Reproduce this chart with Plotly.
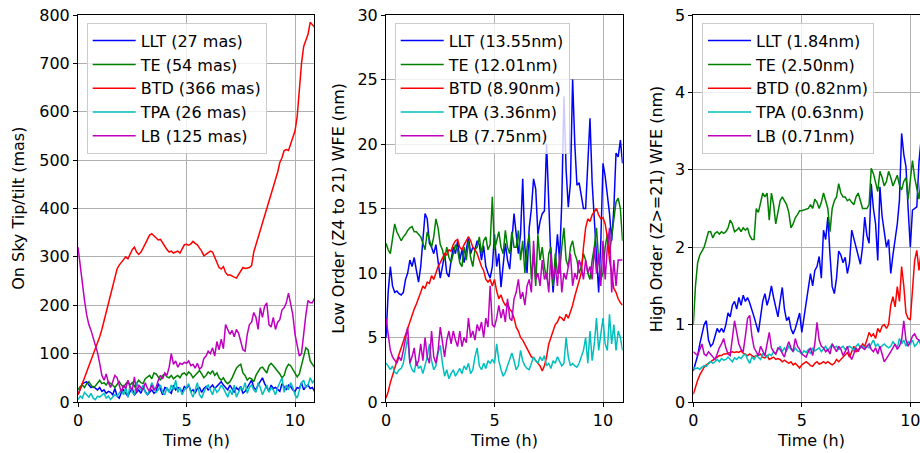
import numpy as np
import plotly.graph_objects as go

# Time axis (hours), sampled every 0.1 h
time_h = [round(0.1 * i, 1) for i in range(110)]

series_names = ["LLT", "TE", "BTD", "TPA", "LB"]
series_colors = ["#0000ff", "#008000", "#ff0000", "#00bfbf", "#bf00bf"]

# ---------------- Panel 1: On Sky Tip/tilt (mas) ----------------
tt_labels = ["LLT (27 mas)", "TE (54 mas)", "BTD (366 mas)", "TPA (26 mas)", "LB (125 mas)"]
tt_llt = [15, 28, 38, 40, 42, 35, 30, 32, 28, 25,
          30, 22, 25, 18, 22, 20, 15, 28, 12, 8,
          20, 25, 18, 12, 22, 28, 15, 20, 25, 18,
          30, 22, 15, 20, 25, 18, 22, 38, 28, 15,
          30, 28, 22, 18, 35, 25, 30, 28, 20, 32,
          28, 35, 22, 25, 18, 28, 30, 20, 28, 32,
          25, 30, 35, 28, 32, 38, 42, 35, 30, 25,
          35, 28, 20, 30, 25, 32, 18, 22, 30, 40,
          45, 30, 25, 35, 42, 50, 38, 30, 22, 35,
          28, 30, 25, 22, 38, 30, 25, 35, 32, 25,
          22, 30, 28, 40, 25, 32, 35, 28, 30, 22]
tt_te = [25, 32, 35, 30, 38, 42, 35, 30, 33, 40,
         45, 38, 40, 35, 42, 38, 35, 30, 36, 42,
         35, 30, 38, 42, 35, 40, 32, 38, 45, 40,
         38, 48, 52, 55, 48, 60, 58, 50, 45, 55,
         58, 52, 50, 55, 48, 52, 55, 50, 58, 60,
         55, 62, 58, 50, 55, 60, 65, 58, 50, 55,
         62, 58, 65, 55, 60, 50, 45, 50, 42, 38,
         42, 50, 62, 70, 75, 78, 60, 55, 45, 50,
         48, 42, 55, 62, 70, 72, 65, 60, 75, 80,
         75, 70, 65, 58, 50, 55, 70, 78, 75, 68,
         60, 52, 58, 75, 90, 112, 108, 85, 78, 72]
tt_btd = [15, 25, 38, 50, 62, 74, 86, 97, 108, 120,
          135, 150, 168, 185, 205, 225, 245, 262, 275, 283,
          288, 295, 300, 296, 305, 315, 320, 310, 305, 310,
          318, 328, 335, 345, 348, 343, 338, 335, 336, 330,
          322, 315, 310, 312, 308, 310, 312, 308, 318, 325,
          326, 324, 327, 332, 328, 325, 318, 312, 302, 305,
          308, 312, 310, 300, 290, 278, 275, 280, 268, 262,
          263, 260, 258, 256, 263, 272, 278, 276, 277, 278,
          282, 310, 325, 340, 350, 365, 385, 400, 410, 425,
          440, 460, 475, 495, 505, 520, 522, 520, 532, 548,
          560, 590, 650, 700, 735, 750, 760, 785, 780, 775]
tt_tpa = [5, 12, 8, 20, 15, 10, 18, 8, 5, 12,
          10, 15, 18, 8, 12, 5, 10, 15, 12, 20,
          25, 15, 30, 10, 35, 20, 15, 40, 30, 25,
          35, 20, 15, 25, 40, 30, 20, 25, 35, 20,
          15, 30, 20, 35, 25, 45, 20, 30, 15, 25,
          30, 38, 20, 10, 25, 40, 15, 8, 20, 30,
          35, 25, 15, 30, 20, 25, 35, 28, 20, 10,
          25, 15, 35, 10, 20, 30, 25, 40, 18, 30,
          35, 25, 20, 40, 30, 15, 25, 35, 20, 30,
          25, 15, 30, 40, 50, 20, 35, 25, 40, 30,
          15, 8, 25, 40, 45, 30, 35, 50, 40, 45]
tt_lb = [320, 280, 240, 210, 180, 160, 148, 132, 115, 102,
         80, 55, 45, 58, 40, 30, 42, 55, 50, 35,
         20, 35, 28, 45, 30, 25, 52, 20, 35, 30,
         25, 40, 28, 22, 35, 25, 30, 45, 55, 48,
         60, 55, 72, 100, 78, 85, 72, 80, 78, 82,
         80, 85, 75, 78, 70, 80, 68, 72, 90, 95,
         105, 100, 112, 95, 125, 108, 130, 110, 160, 150,
         140, 148, 135, 150, 142, 125, 108, 105, 140, 160,
         165, 185, 175, 150, 195, 175, 198, 205, 160, 155,
         175, 150, 165, 170, 190, 195, 205, 225, 200, 180,
         140, 115, 95, 100, 145, 180, 210, 205, 205, 215]

# ---------------- Panel 2: Low Order (Z4 to 21) WFE (nm) ----------------
lo_labels = ["LLT (13.55nm)", "TE (12.01nm)", "BTD (8.90nm)", "TPA (3.36nm)", "LB (7.75nm)"]
lo_llt = [5.0, 8.5, 10.5, 9.0, 8.5, 8.6, 8.4, 8.3, 8.5, 9.5,
          10.0, 11.0, 10.5, 11.2, 10.2, 9.3, 10.5, 12.5, 14.6, 14.2,
          12.3, 12.0, 11.5, 12.2, 11.0, 9.6, 10.5, 11.5, 10.0, 9.7,
          11.0, 12.0, 11.5, 12.5, 11.0, 11.8, 10.8, 12.0, 12.8, 11.5,
          12.0, 11.8, 12.5, 12.2, 11.0, 12.1, 10.5, 10.0, 9.6, 10.5,
          13.0, 10.5, 11.5, 8.9, 10.5, 12.3, 11.0, 10.3, 12.5, 14.6,
          13.0, 11.5, 13.0, 17.3, 12.0, 10.0, 13.5, 15.0, 17.3, 16.5,
          13.0, 14.0, 14.6, 14.8, 20.0, 15.0, 11.0, 8.5, 10.5, 13.0,
          11.0, 15.5, 23.7, 18.0, 15.1, 17.0, 25.0, 20.0, 16.8, 17.0,
          16.0, 15.0, 15.0, 18.0, 22.0, 17.0, 14.2, 11.5, 8.5, 12.5,
          18.5, 17.5, 16.0, 14.6, 12.5, 15.0, 19.3, 19.0, 20.3, 18.5]
lo_te = [12.3, 11.8, 11.5, 12.5, 13.8, 13.2, 12.8, 12.5, 12.8, 13.0,
         13.3, 13.5, 13.6, 13.2, 13.2, 13.0, 12.8, 12.3, 11.8, 13.2,
         12.5, 12.0, 12.8, 14.2, 13.5, 12.2, 11.8, 11.0, 12.0, 11.2,
         10.8, 11.5, 12.2, 11.8, 10.8, 10.5, 12.0, 11.0, 12.5, 11.2,
         10.5, 11.8, 12.0, 12.8, 11.5, 12.5, 12.8, 11.8, 12.2, 15.9,
         11.8, 12.5, 13.2, 12.0, 11.5, 13.3, 12.0, 11.5, 13.2, 12.0,
         12.0, 13.3, 11.0, 12.5, 10.0, 12.0, 13.0, 9.5, 11.5, 9.0,
         13.0, 11.0, 12.0, 10.5, 9.5, 11.5, 12.0, 9.0, 11.5, 10.0,
         10.0, 12.0, 13.5, 11.0, 10.5, 12.0, 12.5, 11.5, 11.0, 10.0,
         10.5, 11.5, 11.0, 10.0, 9.5, 11.0, 12.0, 13.5, 11.0, 9.5,
         10.0, 12.0, 13.0, 11.5, 13.0, 14.5, 15.5, 15.8, 15.0, 12.5]
lo_btd = [0.3, 0.8, 1.5, 2.0, 2.6, 3.2, 3.7, 4.2, 4.8, 5.3,
          5.8, 6.3, 6.8, 7.2, 7.6, 8.0, 8.5, 9.0, 8.8, 9.3,
          9.2, 9.8, 9.5, 10.0, 10.5, 10.8, 11.2, 11.5, 11.4, 11.8,
          11.7, 12.2, 12.5, 12.6, 12.0, 11.8, 12.2, 12.5, 12.8, 12.5,
          12.0, 11.8, 11.5, 11.0, 10.5, 10.2, 9.5, 9.3, 9.5, 9.0,
          9.5, 8.6, 8.0, 8.3, 7.8, 7.5, 7.7, 7.2, 7.0, 6.5,
          5.8, 5.5, 5.0, 4.8, 4.5, 4.2, 3.8, 3.5, 3.4, 3.2,
          3.0, 2.8, 2.4, 2.8, 3.5, 4.5, 5.0, 5.5, 6.0, 6.2,
          6.6, 6.5, 6.3, 6.8, 6.5, 7.0, 7.5, 8.2, 8.8, 9.2,
          10.0, 12.0, 13.5, 14.2, 14.0, 14.5, 14.8, 15.0, 14.5, 14.2,
          14.3, 13.8, 12.8, 11.0, 10.0, 8.8, 8.5, 8.0, 7.7, 7.5]
lo_tpa = [3.0, 2.8, 2.5, 2.8, 2.3, 2.2, 2.5, 2.6, 3.0, 4.2,
          5.0, 3.0, 2.5, 2.3, 3.2, 2.6, 2.8, 2.2, 2.8, 3.5,
          4.5, 3.2, 2.5, 2.8, 3.8, 4.4, 3.0, 2.0, 2.5, 1.8,
          2.2, 2.5, 2.0, 2.3, 2.6, 2.2, 2.8, 2.5, 3.0, 2.2,
          2.5, 3.5, 4.2, 2.8, 2.5, 3.0, 2.6, 3.2, 3.0, 3.3,
          3.0, 4.5, 3.2, 2.5, 2.0, 2.3, 2.8, 3.2, 3.8, 3.2,
          2.5, 2.8, 4.0, 3.2, 2.8, 2.6, 2.5, 3.0, 3.5, 3.2,
          3.0, 3.5, 3.2, 3.6, 2.8, 3.0, 2.6, 3.2, 3.0, 3.5,
          3.2, 2.8, 3.0, 5.0, 3.5, 2.8, 3.0, 2.8, 2.7, 3.0,
          3.5, 4.0, 5.0, 3.0, 5.5, 3.2, 4.5, 6.5, 4.0, 5.5,
          6.5, 4.5, 4.0, 6.8, 4.5, 6.0, 4.0, 5.5, 5.0, 4.0]
lo_lb = [6.5, 5.0, 4.0, 3.5, 3.2, 3.0, 3.5, 3.2, 4.0, 5.0,
         5.8, 3.0, 3.5, 4.2, 2.8, 3.2, 4.5, 3.2, 5.0, 3.5,
         3.0, 5.5, 3.5, 3.0, 4.0, 5.8, 4.5, 3.5, 4.8, 5.5,
         4.5, 5.5, 4.8, 4.3, 5.5, 4.3, 5.0, 4.6, 6.5, 5.0,
         5.5, 4.8, 6.0, 5.5, 6.2, 5.0, 6.5, 5.8, 9.0, 6.0,
         5.8, 6.5, 7.5, 6.5, 7.2, 6.2, 8.0, 6.5, 6.3, 8.0,
         8.5, 9.5, 8.0, 8.5, 7.5, 9.0, 9.5, 8.5, 12.5, 9.5,
         10.0, 9.0, 11.0, 9.5, 10.0, 8.5, 11.5, 9.5, 10.5, 9.0,
         11.5, 8.5, 10.0, 9.5, 10.5, 11.5, 9.0, 10.0, 9.5, 11.0,
         10.5, 9.5, 11.0, 10.0, 10.5, 9.5, 12.0, 10.0, 11.5, 9.0,
         12.5, 9.5, 12.0, 13.5, 8.5, 11.0, 9.0, 11.0, 11.0, 11.0]

# ---------------- Panel 3: High Order (Z>=21) WFE (nm) ----------------
ho_labels = ["LLT (1.84nm)", "TE (2.50nm)", "BTD (0.82nm)", "TPA (0.63nm)", "LB (0.71nm)"]
ho_llt = [0.4, 0.5, 0.6, 0.75, 0.9, 1.0, 1.05, 0.8, 0.72, 0.75,
          0.85, 0.95, 0.9, 0.95, 0.9, 1.0, 1.15, 1.1, 1.25, 1.3,
          1.2, 1.35, 1.25, 1.38, 1.3, 1.35, 1.28, 1.2, 1.1, 1.0,
          0.9, 1.1, 1.3, 1.4, 1.25, 1.35, 1.5, 1.35, 1.2, 1.1,
          1.3, 1.48, 1.2, 1.05, 1.1, 0.95, 0.88, 0.95, 1.05, 1.15,
          0.9, 1.1, 1.3, 1.45, 1.66, 1.5, 1.7, 1.75, 1.88, 1.6,
          2.22, 2.1, 2.39, 1.9, 1.49, 1.4, 1.6, 1.95, 1.9, 1.8,
          1.87, 1.66, 1.8, 2.22, 2.1, 2.0, 1.9, 1.78, 2.0, 2.39,
          2.15, 2.05, 2.82, 2.5, 2.3, 1.83, 2.78, 2.4, 2.2, 2.0,
          2.1, 1.66, 1.9, 2.09, 2.3, 2.61, 3.47, 3.2, 3.04, 2.5,
          2.0, 2.48, 2.5, 2.52, 3.1, 3.4, 3.2, 3.0, 3.1, 3.3]
ho_te = [1.0, 1.5, 1.8, 1.9, 1.95, 2.0, 2.1, 2.2, 2.2, 2.12,
         2.18, 2.2, 2.17, 2.2, 2.18, 2.2, 2.25, 2.35, 2.3, 2.2,
         2.22, 2.25, 2.2, 2.25, 2.22, 2.25, 2.15, 2.1, 2.1, 2.5,
         2.45, 2.6, 2.7, 2.65, 2.7, 2.35, 2.7, 2.55, 2.3, 2.45,
         2.6, 2.65, 2.6, 2.55, 2.45, 2.25, 2.3, 2.38, 2.42, 2.47,
         2.47, 2.48, 2.5, 2.5, 2.55, 2.5, 2.62, 2.58, 2.5, 2.58,
         2.7, 2.6, 2.5, 2.2, 2.5, 2.6, 2.65, 2.82, 2.7, 2.65,
         2.65, 2.6, 2.62, 2.58, 2.55, 2.65, 2.7, 2.6, 2.5, 2.5,
         2.5, 2.55, 3.02, 2.95, 2.85, 2.72, 2.98, 2.9, 2.79, 2.85,
         2.98, 2.9, 2.79, 2.85, 2.93, 2.8, 2.74, 2.85, 2.9, 2.62,
         2.85, 3.12, 2.9, 2.75, 2.62, 2.9, 3.0, 3.1, 3.2, 3.1]
ho_btd = [0.1, 0.2, 0.28, 0.35, 0.4, 0.45, 0.48, 0.5, 0.53, 0.55,
          0.57, 0.58, 0.6, 0.6, 0.62, 0.62, 0.63, 0.64, 0.65, 0.64,
          0.65, 0.64, 0.66, 0.63, 0.62, 0.6, 0.62, 0.6, 0.58, 0.6,
          0.6, 0.62, 0.58, 0.57, 0.6, 0.55, 0.56, 0.58, 0.55, 0.56,
          0.55, 0.52, 0.54, 0.52, 0.5, 0.52, 0.48, 0.5, 0.47, 0.44,
          0.48, 0.5, 0.52, 0.5, 0.47, 0.46, 0.5, 0.52, 0.49, 0.5,
          0.52, 0.5, 0.52, 0.5, 0.48, 0.5, 0.55, 0.52, 0.55, 0.58,
          0.6, 0.64, 0.58, 0.66, 0.72, 0.65, 0.68, 0.7, 0.75, 0.72,
          0.8, 0.9, 0.85, 0.88, 0.82, 0.95, 0.9, 0.98, 1.0, 0.95,
          1.0, 1.25, 1.36, 1.23, 1.49, 1.3, 1.75, 1.5, 1.15, 1.08,
          1.06, 1.5, 1.83, 1.96, 1.7, 1.95, 1.9, 2.0, 2.1, 2.0]
ho_tpa = [0.45, 0.43, 0.44, 0.42, 0.45, 0.47, 0.46, 0.5, 0.52, 0.5,
          0.52, 0.55, 0.52, 0.56, 0.54, 0.55, 0.58, 0.55, 0.52, 0.57,
          0.55, 0.58, 0.56, 0.6, 0.62, 0.55, 0.5, 0.58, 0.55, 0.6,
          0.58, 0.55, 0.62, 0.6, 0.58, 0.62, 0.6, 0.65, 0.62, 0.68,
          0.72, 0.65, 0.7, 0.66, 0.72, 0.68, 0.65, 0.7, 0.66, 0.65,
          0.62, 0.66, 0.64, 0.68, 0.62, 0.7, 0.66, 0.68, 0.7, 0.65,
          0.68, 0.72, 0.66, 0.7, 0.75, 0.7, 0.72, 0.68, 0.7, 0.72,
          0.68, 0.7, 0.72, 0.7, 0.66, 0.72, 0.75, 0.7, 0.72, 0.7,
          0.72, 0.7, 0.75, 0.8, 0.72, 0.75, 0.7, 0.72, 0.75, 0.72,
          0.7, 0.72, 0.78, 0.74, 0.7, 0.82, 0.75, 0.8, 0.72, 0.78,
          0.75, 0.8, 0.72, 0.75, 0.8, 0.72, 0.78, 0.82, 0.75, 0.78]
ho_lb = [0.65, 0.62, 0.6, 0.68, 0.75, 0.62, 0.6, 0.65, 0.62, 0.58,
         0.55, 0.62, 0.7, 0.75, 0.82, 0.7, 0.62, 0.6, 0.85, 1.05,
         0.9, 0.75, 0.68, 0.65, 0.85, 1.08, 1.12, 0.85, 0.7, 0.65,
         0.6, 0.72, 0.65, 0.6, 0.75, 0.9, 0.7, 0.65, 0.62, 0.7,
         0.68, 0.62, 0.58, 0.7, 0.78, 0.7, 0.65, 0.82, 0.72, 0.68,
         0.62, 0.6, 0.58, 0.65, 0.7, 0.6, 0.75, 1.03, 0.8, 0.72,
         0.7, 0.65, 0.68, 0.62, 0.75, 0.7, 0.65, 0.72, 0.68, 0.6,
         0.65, 0.72, 0.6, 0.55, 0.62, 0.7, 0.65, 0.72, 0.7, 0.68,
         0.72, 0.75, 0.68, 0.65, 0.7, 0.62, 0.72, 0.6, 0.52, 0.56,
         0.6, 0.65, 0.7, 0.75, 0.68, 0.72, 0.8, 1.05, 0.8, 0.72,
         0.78, 0.85, 0.88, 0.82, 0.8, 0.78, 0.8, 0.75, 0.78, 0.8]

panels = [
    dict(labels=tt_labels, data=[tt_llt, tt_te, tt_btd, tt_tpa, tt_lb],
         yrange=[0, 800], ydtick=100, ytitle="On Sky Tip/tilt (mas)"),
    dict(labels=lo_labels, data=[lo_llt, lo_te, lo_btd, lo_tpa, lo_lb],
         yrange=[0, 30], ydtick=5, ytitle="Low Order (Z4 to 21) WFE (nm)"),
    dict(labels=ho_labels, data=[ho_llt, ho_te, ho_btd, ho_tpa, ho_lb],
         yrange=[0, 5], ydtick=1, ytitle="High Order (Z>=21) WFE (nm)"),
]

W, H = 920, 453
MT, MB = 15, 51
px_per_h = 21.7
left_px = [78, 386, 693.3]
width_px = [236, 236.7, 226.7]
ytitle_x_px = [18.3, 338.3, 656.7]
xtitle_x_px = [196, 504, 811]

FONT = "DejaVu Sans"
fig = go.Figure()
annotations = []

for k, p in enumerate(panels):
    sfx = "" if k == 0 else str(k + 1)
    leg = "legend" if k == 0 else f"legend{k + 1}"
    for j in range(5):
        fig.add_trace(go.Scatter(
            x=time_h, y=p["data"][j], mode="lines", name=p["labels"][j],
            line=dict(color=series_colors[j], width=1.5),
            xaxis="x" + sfx, yaxis="y" + sfx, legend=leg,
            legendgroup=f"g{k}_{j}",
        ))
    x0 = left_px[k] / W
    x1 = min((left_px[k] + width_px[k]) / W, 1.0)
    xmax = width_px[k] / px_per_h
    axis_common = dict(showgrid=True, gridcolor="#b0b0b0", gridwidth=0.8,
                       showline=True, linecolor="black", linewidth=1,
                       ticks="outside", ticklen=4, tickwidth=1, tickcolor="black",
                       zeroline=False, automargin=False,
                       ticklabeloverflow="allow",
                       tickfont=dict(family=FONT, size=16, color="black"))
    fig.layout["xaxis" + sfx] = dict(
        domain=[x0, x1], range=[0, xmax], tick0=0, dtick=5,
        anchor="y" + sfx, mirror=True, **axis_common)
    fig.layout["yaxis" + sfx] = dict(
        domain=[0, 1], range=p["yrange"], tick0=0, dtick=p["ydtick"],
        anchor="x" + sfx, mirror=(k < 2), **axis_common)
    fig.layout[leg] = dict(
        x=(left_px[k] + 8.7) / W, y=(H - MB - 22.7) / (H - MT - MB),
        xanchor="left", yanchor="top",
        bgcolor="rgba(255,255,255,0.8)", bordercolor="#cccccc", borderwidth=1,
        font=dict(family=FONT, size=16, color="black"),
        tracegroupgap=0, itemwidth=43,
    )
    annotations.append(dict(
        text=p["ytitle"], xref="paper", yref="paper",
        x=ytitle_x_px[k] / W, y=0.5, textangle=-90, showarrow=False,
        xanchor="center", yanchor="middle",
        font=dict(family=FONT, size=16, color="black")))
    annotations.append(dict(
        text="Time (h)", xref="paper", yref="paper",
        x=xtitle_x_px[k] / W, y=-(440.7 - (H - MB)) / (H - MT - MB),
        showarrow=False, xanchor="center", yanchor="middle",
        font=dict(family=FONT, size=16, color="black")))

fig.update_layout(
    width=W, height=H,
    margin=dict(l=0, r=0, t=MT, b=MB, pad=0),
    paper_bgcolor="white", plot_bgcolor="white",
    annotations=annotations,
    showlegend=True,
    font=dict(family=FONT, size=16, color="black"),
)

fig.write_html("out.html", config={"displayModeBar": False},
               post_script="document.body.style.margin='0';document.body.style.overflow='hidden';")
